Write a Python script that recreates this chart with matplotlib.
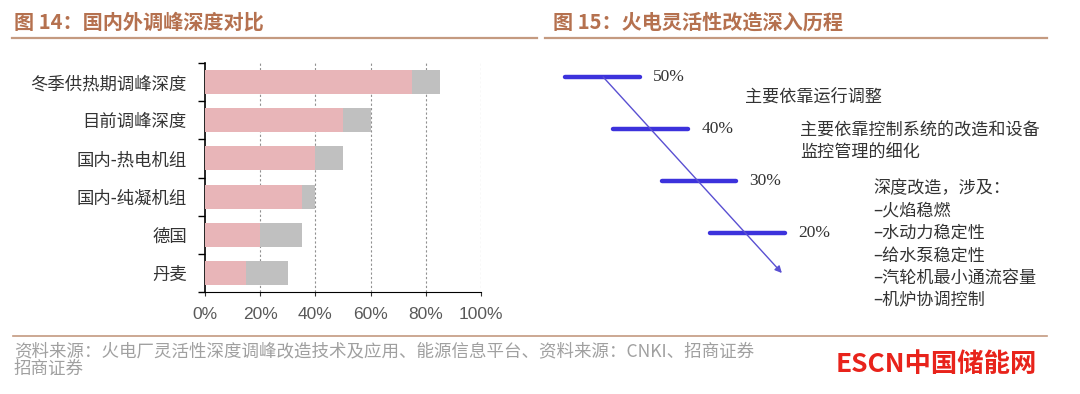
import matplotlib
matplotlib.use("Agg")
import matplotlib.pyplot as plt

plt.rcParams['font.family'] = ['Noto Sans CJK SC', 'DejaVu Sans']

# ---- data: left chart (调峰深度, %) ----
categories = ['冬季供热期调峰深度', '目前调峰深度', '国内-热电机组', '国内-纯凝机组', '德国', '丹麦']
depth_low = [75, 50, 40, 35, 20, 15]      # pink part
depth_high = [85, 60, 50, 40, 35, 30]     # end of grey part
x_ticks = [0, 20, 40, 60, 80, 100]

# ---- data: right diagram ----
levels = [50, 40, 30, 20]
stage_texts = ['主要依靠运行调整',
               '主要依靠控制系统的改造和设备\n监控管理的细化',
               '深度改造，涉及：\n–火焰稳燃\n–水动力稳定性\n–给水泵稳定性\n–汽轮机最小通流容量\n–机炉协调控制']

title_left = '图 14：国内外调峰深度对比'
title_right = '图 15：火电灵活性改造深入历程'
source = '资料来源：火电厂灵活性深度调峰改造技术及应用、能源信息平台、资料来源：CNKI、招商证券\n招商证券'

W, H = 1080, 394
fig = plt.figure(figsize=(W / 100, H / 100), dpi=100)
title_color = '#B5714F'
rule_color = '#C49A80'

def fx(px):
    return px / W

def fy(py):
    return 1 - py / H

# titles and rules
fig.text(fx(14), fy(22), title_left, color=title_color, fontsize=14.5,
         fontweight='bold', va='center', ha='left')
fig.text(fx(553), fy(22), title_right, color=title_color, fontsize=14.5,
         fontweight='bold', va='center', ha='left')
fig.add_artist(plt.Line2D([fx(12), fx(537)], [fy(38), fy(38)], color=rule_color, lw=1.6))
fig.add_artist(plt.Line2D([fx(545), fx(1047)], [fy(38), fy(38)], color=rule_color, lw=1.6))
fig.add_artist(plt.Line2D([fx(13), fx(1047)], [fy(336), fy(336)], color=rule_color, lw=1.2))

fig.text(fx(14), fy(342), source, color='#A0A0A0', fontsize=12.6, va='top', ha='left',
         linespacing=0.95)
fig.text(fx(1037), fy(365), 'ESCN中国储能网', color='#E8231B', fontsize=19,
         fontweight='heavy', va='center', ha='right')

# ---- left bar chart ----
ax = fig.add_axes([fx(205), fy(292), fx(481 - 205), (292 - 63) / H])
ypos = list(range(len(categories)))
ax.barh(ypos, depth_high, height=0.63, color='#C0C0C0', zorder=2)
ax.barh(ypos, depth_low, height=0.63, color='#E8B5B8', zorder=3)
ax.set_ylim(len(categories) - 0.5, -0.5)
ax.set_xlim(0, 100)
ax.set_yticks(ypos)
ax.set_yticklabels(categories, fontsize=12.5, color='#333333')
ax.set_yticks([y - 0.5 for y in range(len(categories) + 1)], minor=True)
ax.tick_params(axis='y', which='major', length=0, pad=13)
ax.tick_params(axis='y', which='minor', length=5, width=1, direction='out')
ax.set_xticks(x_ticks)
ax.set_xticklabels([f'{v}%' for v in x_ticks], fontsize=12.5, color='#595959',
                   family=['Liberation Sans', 'DejaVu Sans'])
ax.tick_params(axis='x', length=3, width=0.8, color='#333333', pad=8)
for v in x_ticks[1:]:
    ax.axvline(v, color='#909090', lw=0.8, ls=(0, (2, 2)), zorder=1)
for s in ['top', 'right']:
    ax.spines[s].set_visible(False)
ax.spines['left'].set_linewidth(1.2)
ax.spines['bottom'].set_linewidth(0.8)

# ---- right diagram ----
# x in "% steps" from the 50% line start, y is the depth level
px_per_x, px_per_y = 4.83, 5.2
x0_px, y0_px = 565, 77
ax2 = fig.add_axes([fx(545), fy(330), fx(1070 - 545), (330 - 40) / H])
ax2.set_xlim((545 - x0_px) / px_per_x, (1070 - x0_px) / px_per_x)
ax2.set_ylim(levels[0] - (330 - y0_px) / px_per_y, levels[0] + (y0_px - 40) / px_per_y)
ax2.axis('off')

bar_len = 15.5
blue = '#3C32DC'
for lv in levels:
    xs = levels[0] - lv
    ax2.plot([xs, xs + bar_len], [lv, lv], color=blue, lw=3.2, solid_capstyle='round')
    ax2.text(xs + 18.2, lv, f'{lv}%', fontsize=12.5, color='#333333', va='center', ha='left',
             family=['Liberation Serif', 'DejaVu Serif'])

ax2.annotate('', xy=(44.9, 12.3), xytext=(7.9, levels[0]),
             arrowprops=dict(arrowstyle='-|>', color='#5A50D2', lw=1.0,
                             mutation_scale=10, shrinkA=0, shrinkB=0))

text_anchor = [(37.3, 48.0), (48.7, 41.4), (63.8, 30.4)]
for (tx, ty), t in zip(text_anchor, stage_texts):
    ax2.text(tx, ty, t, fontsize=12.3, color='#333333', va='top', ha='left',
             linespacing=1.32)

fig.savefig('out.png', dpi=100)
